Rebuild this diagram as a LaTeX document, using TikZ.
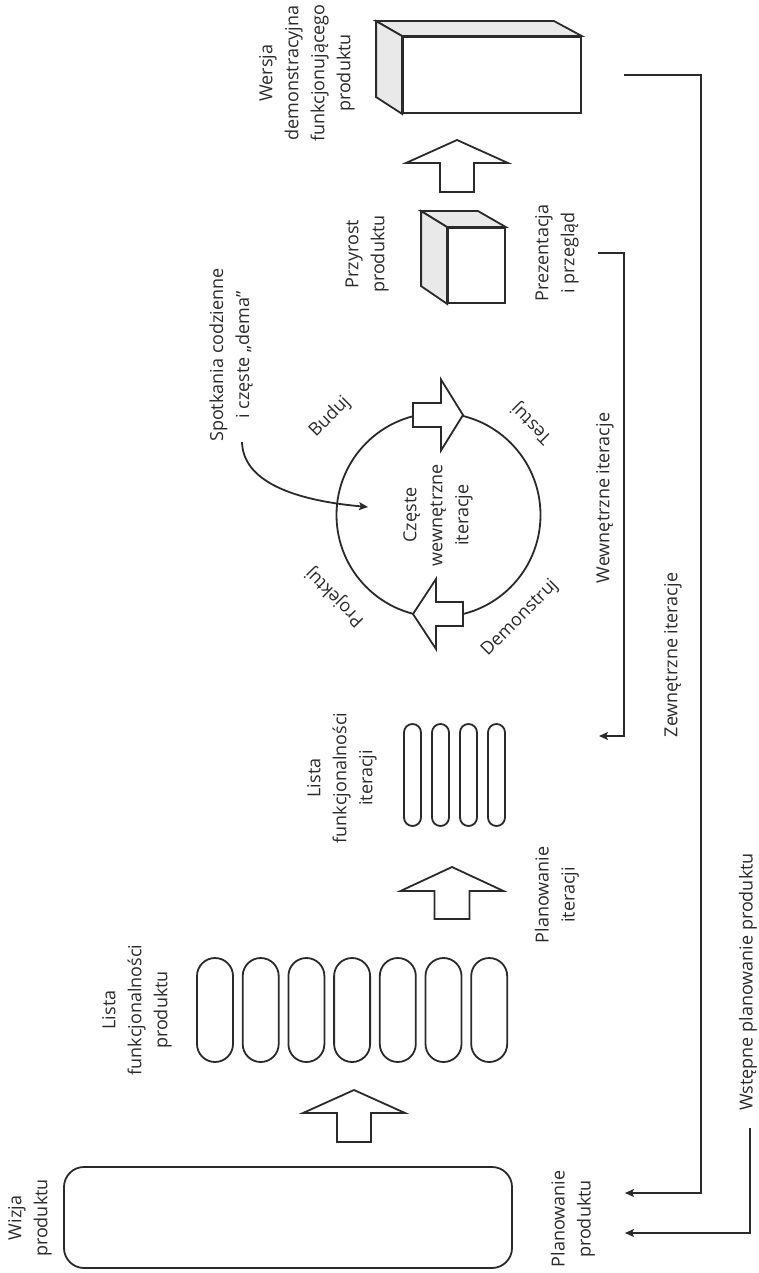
\documentclass[tikz,border=0pt]{standalone}
\usepackage{fontspec}
\setmainfont{Open Sans}
\usetikzlibrary{arrows.meta}
\definecolor{ink}{HTML}{2A2A2A}
\definecolor{face}{HTML}{E9E9EA}
\begin{document}
\begin{tikzpicture}[x=0.5pt,y=-0.5pt,
  outline/.style={draw=ink, line width=0.9pt, line join=miter},
  txt/.style={font=\fontsize{9}{13}\selectfont, text=ink, align=center, inner sep=0pt},
  vtxt/.style={txt, rotate=90},
  link/.style={draw=ink, line width=0.9pt, -{Stealth[length=4.5pt,width=4pt,inset=1pt]}},
  pill/.style={outline, fill=white, inner sep=0pt, minimum width=18pt, minimum height=52pt, rounded corners=9pt},
  thinpill/.style={outline, fill=white, inner sep=0pt, minimum width=8.5pt, minimum height=51pt, rounded corners=4.25pt}]
\useasboundingbox (0,0) rectangle (759,1273);

% ---------- product vision ----------
\node[outline, rounded corners=10pt, minimum width=224pt, minimum height=50.5pt, inner sep=0pt] (wizja) at (288,1217.5) {};
\node[vtxt] (wizjaT) at (30,1218) {Wizja\\produktu};

% block arrow: vision -> product backlog
\draw[outline, fill=white] (354,1090) -- (405,1113) -- (371,1113) -- (371,1142) -- (337,1142) -- (337,1113) -- (303,1113) -- cycle;

% ---------- product backlog ----------
\foreach \i in {0,...,6} \node[pill] (pp\i) at (215+45.7*\i,1010) {};
\node[vtxt] (listaProdT) at (137,1010) {Lista\\funkcjonalności\\produktu};

% block arrow: iteration planning
\draw[outline, fill=white] (452,867) -- (503.5,891) -- (469.5,891) -- (469.5,919) -- (434.5,919) -- (434.5,891) -- (400.5,891) -- cycle;
\node[vtxt] (planIterT) at (557,895) {Planowanie\\iteracji};

% ---------- iteration backlog ----------
\foreach \i in {0,...,3} \node[thinpill] (ip\i) at (412.5+28*\i,775) {};
\node[vtxt] (listaIterT) at (342,778) {Lista\\funkcjonalności\\iteracji};

% ---------- inner iteration cycle ----------
\node[outline, circle, minimum size=102pt, inner sep=0pt] (cycle) at (438.5,515) {};
\node[vtxt] (cycleT) at (438,515) {Częste\\wewnętrzne\\iteracje};
\draw[outline, fill=white] (463,415) -- (441,379.5) -- (441,403) -- (413,403) -- (413,427) -- (441,427) -- (441,450.5) -- cycle;
\draw[outline, fill=white] (413,614) -- (436,579) -- (436,602) -- (463,602) -- (463,626) -- (436,626) -- (436,649) -- cycle;
\node[txt, rotate=45] (buduj) at (330,417) {Buduj};
\node[txt, rotate=135] (testuj) at (532,423) {Testuj};
\node[txt, rotate=135] (projektuj) at (335,597) {Projektuj};
\node[txt, rotate=45] (demonstruj) at (520,618) {Demonstruj};

% daily meetings
\node[vtxt] (spotT) at (231,355) {Spotkania codzienne\\i częste „dema”};
\coordinate (spotEnd) at (242,442);
\coordinate (cycleIn) at (368,507);
\draw[link] (spotEnd) .. controls (243,480) and (290,500) .. (cycleIn);

% ---------- product increment ----------
\node[outline, fill=white, minimum width=28.5pt, minimum height=37.5pt, inner sep=0pt] (inc) at (476.5,265.5) {};
\draw[outline, fill=face] (inc.north west) -- ++(-26,-16) -- ++(57,0) -- (inc.north east) -- cycle;
\draw[outline, fill=face] (inc.north west) -- ++(-26,-16) -- ++(0,75) -- (inc.south west) -- cycle;
\node[vtxt] (przyrostT) at (367,254) {Przyrost\\produktu};
\node[vtxt] (prezT) at (557,253) {Prezentacja\\i przegląd};

% block arrow: increment -> demo version
\draw[outline, fill=white] (457,140) -- (508,163) -- (474,163) -- (474,192) -- (440,192) -- (440,163) -- (406,163) -- cycle;

% ---------- working product demo ----------
\node[outline, fill=white, minimum width=89pt, minimum height=38pt, inner sep=0pt] (demo) at (492,75) {};
\draw[outline, fill=face] (demo.north west) -- ++(-26,-15) -- ++(178,0) -- (demo.north east) -- cycle;
\draw[outline, fill=face] (demo.north west) -- ++(-26,-15) -- ++(0,76) -- (demo.south west) -- cycle;
\node[vtxt] (wersjaT) at (307,73) {Wersja\\demonstracyjna\\funkcjonującego\\produktu};

% ---------- feedback loops ----------
\coordinate (innerA) at (598,253);
\coordinate (innerB) at (599,736);
\draw[link] (innerA) -- (624,253) -- (624,736) -- (innerB);
\node[vtxt] (wewT) at (605,498) {Wewnętrzne iteracje};

\coordinate (outerA) at (624,75);
\coordinate (outerB) at (625,1193);
\draw[link] (outerA) -- (701,75) -- (701,1193) -- (outerB);
\node[vtxt] (zewT) at (673,655) {Zewnętrzne iteracje};

\coordinate (initA) at (750,1128);
\coordinate (initB) at (625,1233);
\draw[link] (initA) -- (750,1233) -- (initB);
\node[vtxt] (wstepneT) at (748,982) {Wstępne planowanie produktu};
\node[vtxt] (planProdT) at (573,1219) {Planowanie\\produktu};
\end{tikzpicture}
\end{document}
